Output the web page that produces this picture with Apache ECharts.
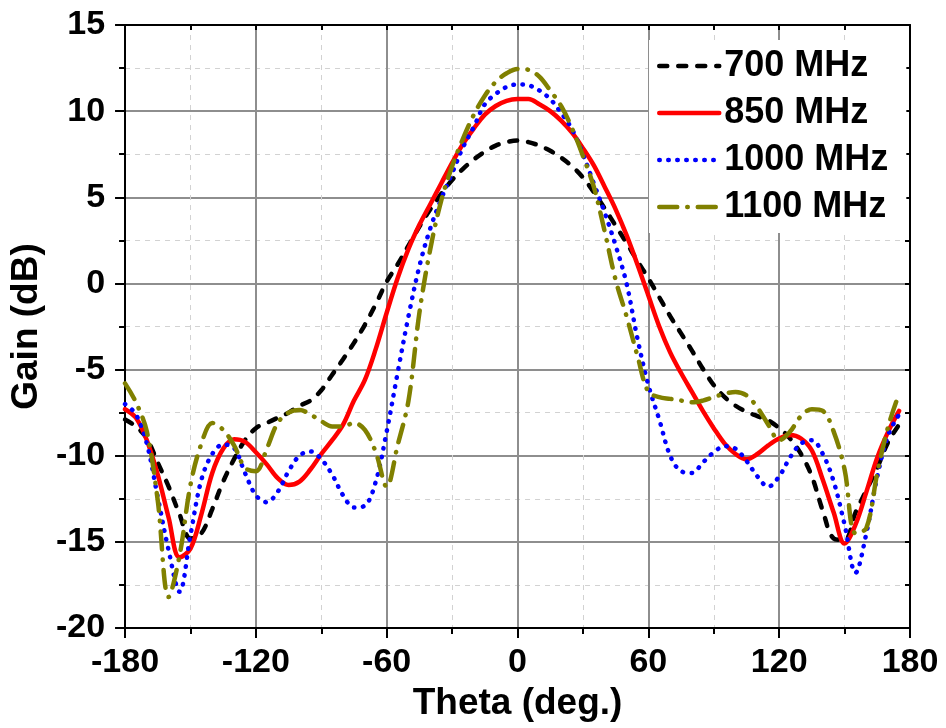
<!DOCTYPE html>
<html>
<head>
<meta charset="utf-8">
<script src="https://cdn.jsdelivr.net/npm/echarts@6/dist/echarts.min.js"></script>
<style>
  html, body { margin: 0; padding: 0; background: #fff; }
  #chart { width: 946px; height: 728px; }
</style>
</head>
<body>
<div id="chart"></div>
<script>
const theta = [
  -180, -175, -170, -165, -160, -155, -150, -145, -140, -135, -130, -125,
  -120, -115, -110, -105, -100, -95, -90, -85, -80, -75, -70, -65,
  -60, -55, -50, -45, -40, -35, -30, -25, -20, -15, -10, -5,
  0, 5, 10, 15, 20, 25, 30, 35, 40, 45, 50, 55,
  60, 65, 70, 75, 80, 85, 90, 95, 100, 105, 110, 115,
  120, 125, 130, 135, 140, 145, 150, 155, 160, 165, 170, 175
];

const gain700 = [
  -7.9, -8.3, -9.0, -10.4, -11.8, -13.4, -14.8, -14.5, -13.1, -11.5, -10.2, -9.1,
  -8.4, -8.1, -7.8, -7.5, -7.1, -6.8, -6.2, -5.3, -4.4, -3.45, -2.4, -1.2,
  0.1, 1.1, 2.2, 3.3, 4.3, 5.2, 6.0, 6.65, 7.2, 7.65, 8.0, 8.2,
  8.3, 8.2, 8.0, 7.7, 7.3, 6.8, 6.15, 5.3, 4.35, 3.35, 2.35, 1.3,
  0.3, -0.8, -1.9, -2.9, -3.9, -4.95, -5.9, -6.6, -7.1, -7.45, -7.7, -7.95,
  -8.4, -9.0, -9.9, -11.2, -13.2, -14.8, -14.9, -13.3, -12.0, -10.7, -9.2, -8.2
];

const gain850 = [
  -7.3, -7.8, -9.1, -11.1, -13.6, -15.9, -15.4, -13.4, -11.0, -9.6, -9.05, -9.2,
  -9.8, -10.5, -11.3, -11.7, -11.5, -10.8, -9.9, -9.1, -8.2, -6.8, -5.6, -3.8,
  -1.7, 0.3, 2.0, 3.4, 4.6, 5.8, 7.0, 8.1, 9.0, 9.8, 10.3, 10.6,
  10.7, 10.7, 10.4, 10.0, 9.45, 8.75, 7.85, 6.85, 5.6, 4.3, 2.8, 1.1,
  -0.7, -2.5, -4.0, -5.2, -6.3, -7.4, -8.4, -9.3, -9.9, -10.2, -9.9, -9.4,
  -9.0, -8.8, -9.0, -9.7, -11.4, -13.3, -15.1, -14.0, -12.1, -10.1, -8.6, -7.4
];

const gain1000 = [
  -7.0, -7.6, -9.3, -12.4, -15.5, -17.9, -14.6, -11.4, -9.9, -9.35, -9.55, -11.0,
  -12.3, -12.7, -12.1, -10.9, -10.0, -9.75, -10.2, -11.1, -12.3, -13.0, -12.9, -11.5,
  -8.6, -5.2, -1.9, 1.0, 3.2, 4.9, 6.4, 7.9, 9.1, 10.4, 11.0, 11.4,
  11.55, 11.5, 11.2, 10.7, 9.9, 8.95, 7.5, 5.8, 4.1, 2.2, 0.0, -3.2,
  -5.9, -7.9, -10.0, -10.9, -11.0, -10.4, -9.8, -9.45, -9.6, -10.3, -11.2, -11.8,
  -11.2, -10.1, -9.3, -9.1, -9.9, -11.5, -14.0, -16.8, -14.5, -11.2, -8.8, -7.6
];

const gain1100 = [
  -5.8, -6.9, -8.6, -12.6, -18.2, -15.8, -11.7, -9.3, -8.1, -8.5, -9.4, -10.7,
  -10.9, -9.6, -8.1, -7.5, -7.35, -7.6, -8.0, -8.3, -8.3, -8.1, -8.5, -9.8,
  -11.8, -9.4, -6.8, -1.7, 2.0, 4.8, 6.8, 8.4, 9.8, 10.9, 11.7, 12.2,
  12.45, 12.4, 12.0, 11.2, 10.3, 9.0, 7.4, 5.6, 3.0, 0.2, -1.9, -4.2,
  -6.3, -6.6, -6.7, -6.8, -6.9, -6.8, -6.6, -6.4, -6.3, -6.5, -7.2, -8.2,
  -9.1, -8.6, -7.7, -7.3, -7.4, -8.6, -10.8, -14.5, -14.2, -11.0, -8.3, -6.4
];

const seriesNames = ["700 MHz", "850 MHz", "1000 MHz", "1100 MHz"];

const font = "'Liberation Sans', Arial, sans-serif";

const pairs = (ys) => theta.map((t, i) => [t, ys[i]]);

const chart = echarts.init(document.getElementById("chart"), null, { renderer: "canvas" });

const mainAxis = (extra) => ({
  type: "value",
  axisLine: { show: true, onZero: false, lineStyle: { color: "#000", width: 2 } },
  axisTick: { show: true, inside: false, length: 10, lineStyle: { color: "#000", width: 2 } },
  minorTick: { show: true, splitNumber: 2, length: 6, lineStyle: { color: "#000", width: 2 } },
  axisLabel: { color: "#000", fontSize: 34, fontWeight: "bold", fontFamily: font },
  splitLine: { show: true, lineStyle: { color: "#8e8e8e", width: 2 } },
  minorSplitLine: { show: true, lineStyle: { color: "#d2d2d2", width: 1, type: [5, 5] } },
  nameTextStyle: { color: "#000", fontSize: 37, fontWeight: "bold", fontFamily: font },
  ...extra,
});

const mirrorAxis = (extra) => ({
  type: "value",
  axisLine: { show: true, onZero: false, lineStyle: { color: "#000", width: 2 } },
  axisTick: { show: true, inside: true, length: 5, lineStyle: { color: "#000", width: 2 } },
  minorTick: { show: true, splitNumber: 2, length: 5, lineStyle: { color: "#000", width: 2 } },
  axisLabel: { show: false },
  splitLine: { show: false },
  ...extra,
});

const option = {
  backgroundColor: "#fff",
  animation: false,
  grid: { left: 122, right: 36, top: 25, bottom: 100 },
  legend: {
    data: seriesNames,
    orient: "vertical",
    left: 649,
    top: 40,
    padding: [8, 18, 8, 8],
    backgroundColor: "#fff",
    itemWidth: 60,
    itemHeight: 14,
    itemGap: 11,
    itemStyle: { opacity: 0 },
    lineStyle: { width: 4.5 },
    textStyle: { color: "#000", fontSize: 36, lineHeight: 36, fontWeight: "bold", fontFamily: font },
  },
  xAxis: [
    mainAxis({
      min: -180, max: 180, interval: 60,
      name: "Theta (deg.)", nameLocation: "middle", nameGap: 57,
      axisLabel: { color: "#000", fontSize: 34, fontWeight: "bold", fontFamily: font, margin: 18 },
    }),
    mirrorAxis({ min: -180, max: 180, interval: 60, position: "top" }),
  ],
  yAxis: [
    mainAxis({
      min: -20, max: 15, interval: 5,
      name: "Gain (dB)", nameLocation: "middle", nameGap: 72,
      axisLabel: { color: "#000", fontSize: 34, fontWeight: "bold", fontFamily: font, margin: 20 },
    }),
    mirrorAxis({ min: -20, max: 15, interval: 5, position: "right" }),
  ],
  series: [
    {
      name: seriesNames[0], type: "line", data: pairs(gain700),
      smooth: 0.35, symbol: "none",
      lineStyle: { color: "#000000", width: 4.5, type: [8, 11], cap: "round" },
      itemStyle: { color: "#000000" },
    },
    {
      name: seriesNames[1], type: "line", data: pairs(gain850),
      smooth: 0.35, symbol: "none",
      lineStyle: { color: "#ff0000", width: 4.5, type: "solid", cap: "round" },
      itemStyle: { color: "#ff0000" },
    },
    {
      name: seriesNames[2], type: "line", data: pairs(gain1000),
      smooth: 0.35, symbol: "none",
      lineStyle: { color: "#0000ff", width: 4.5, type: [0.5, 8.5], cap: "round" },
      itemStyle: { color: "#0000ff" },
    },
    {
      name: seriesNames[3], type: "line", data: pairs(gain1100),
      smooth: 0.35, symbol: "none",
      lineStyle: { color: "#808000", width: 4.5, type: [18, 10, 0.5, 10], cap: "round" },
      itemStyle: { color: "#808000" },
    },
  ],
};

chart.setOption(option);
</script>
</body>
</html>
